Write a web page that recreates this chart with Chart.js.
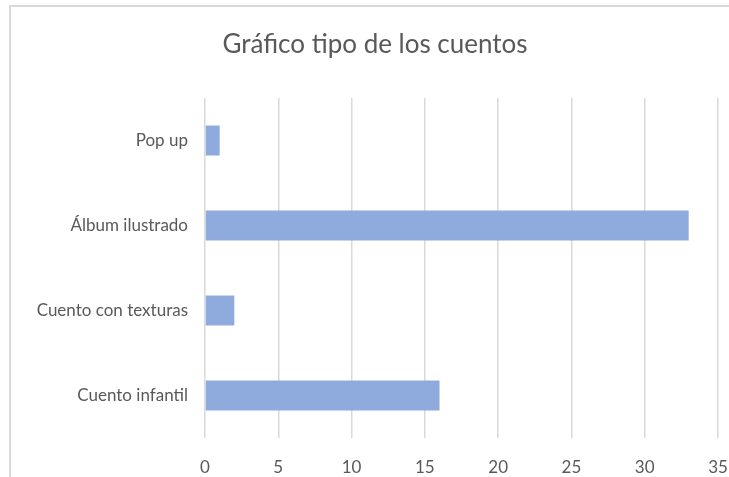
<!DOCTYPE html>
<html>
<head>
<meta charset="utf-8">
<script src="https://cdn.jsdelivr.net/npm/chart.js@4/dist/chart.umd.min.js"></script>
<style>
  html, body { margin: 0; padding: 0; background: #fff; }
  #wrap { position: relative; width: 729px; height: 477px; overflow: hidden; }
  #frame { position: absolute; left: 9px; top: 5px; width: 800px; height: 600px;
           border-left: 2px solid #d9d9d9; border-top: 2px solid #d9d9d9; }
  canvas { position: absolute; left: 0; top: 0; }
</style>
</head>
<body>
<div id="wrap">
  <div id="frame"></div>
  <canvas id="c" width="729" height="477"></canvas>
</div>
<script>
const titleText = "Gráfico tipo de los cuentos";
const categories = ["Pop up", "Álbum ilustrado", "Cuento con texturas", "Cuento infantil"];
const values = [1, 33, 2, 16];
const xTicks = [0, 5, 10, 15, 20, 25, 30, 35];

const FONT = "Lato, 'Open Sans', sans-serif";

const shiftTitle = {
  id: 'shiftTitle',
  afterLayout(chart) {
    const t = chart.titleBlock;
    if (t) { t.left += 32; }
  }
};

new Chart(document.getElementById('c'), {
  type: 'bar',
  data: {
    labels: categories,
    datasets: [{
      data: values,
      backgroundColor: '#8faadc',
      borderWidth: 0,
      barPercentage: 0.6,
      categoryPercentage: 0.588
    }]
  },
  plugins: [shiftTitle],
  options: {
    indexAxis: 'y',
    responsive: false,
    animation: false,
    layout: { padding: { left: 0, right: 11, top: 0, bottom: 0 } },
    plugins: {
      legend: { display: false },
      tooltip: { enabled: false },
      title: {
        display: true,
        text: titleText,
        color: '#595959',
        font: { family: FONT, size: 26, weight: 'normal' },
        padding: { top: 29.4, bottom: 37.4 }
      }
    },
    scales: {
      x: {
        min: 0, max: 35,
        afterBuildTicks: s => { s.ticks = xTicks.map(v => ({ value: v })); },
        afterFit: s => { s.height = 39; s.paddingLeft = 0; s.paddingRight = 0; },
        border: { display: false },
        grid: { color: '#d9d9d9', lineWidth: 1.5, drawTicks: false },
        ticks: { color: '#595959', padding: 19, font: { family: FONT, size: 17 } }
      },
      y: {
        afterFit: s => { s.width = 205; },
        border: { display: false },
        grid: { display: false, drawTicks: false },
        ticks: { color: '#595959', padding: 17, font: { family: FONT, size: 17 } }
      }
    }
  }
});
</script>
</body>
</html>
